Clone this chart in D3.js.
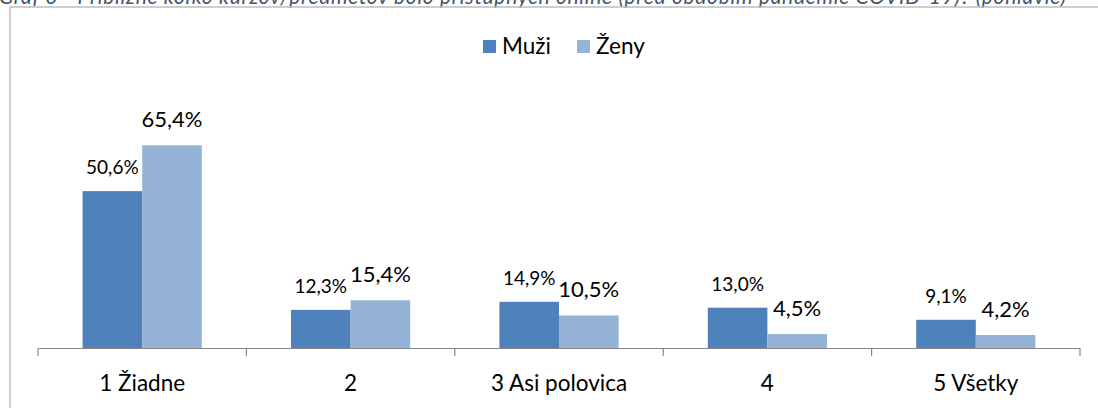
<!DOCTYPE html>
<html>
<head>
<meta charset="utf-8">
<script src="https://cdn.jsdelivr.net/npm/d3@7"></script>
<style>
  body { margin: 0; background: #fff; }
  svg { display: block; font-family: Lato, "Open Sans", sans-serif; }
</style>
</head>
<body>
<svg id="svg1" width="1098" height="408"></svg>
<script>
var categories = ['1 Žiadne', '2', '3 Asi polovica', '4', '5 Všetky'];
var seriesNames = ['Muži', 'Ženy'];
var muzi = [50.6, 12.3, 14.9, 13.0, 9.1];
var zeny = [65.4, 15.4, 10.5, 4.5, 4.2];
var colors = ['#4f81bd', '#95b3d7'];

var svg = d3.select('#svg1');

// caption, cut off at the top of the picture
svg.append('text')
    .attr('x', -1)
    .attr('y', 4)
    .attr('font-size', 21)
    .attr('font-style', 'italic')
    .attr('letter-spacing', 0.7)
    .attr('fill', '#44546a')
    .text('Graf 3 - Približne koľko kurzov/predmetov bolo prístupných online (pred obdobím pandémie COVID-19)? (pohlavie)');

// chart frame
svg.append('rect')
    .attr('x', 10)
    .attr('y', 7)
    .attr('width', 1200)
    .attr('height', 500)
    .attr('fill', 'none')
    .attr('stroke', '#bfbfbf')
    .attr('stroke-width', 1.5);

var scaleX = d3.scaleBand().domain(categories).range([38, 1080]);
var scaleY = d3.scaleLinear().domain([0, 70]).range([348, 131]);
var inner = d3.scaleBand().domain(seriesNames).range([0, scaleX.bandwidth() * 0.572]);

var rows = categories.map(function(c, i) {
    return { cat: c, values: [muzi[i], zeny[i]] };
});

var groups = svg.selectAll('.grp')
    .data(rows)
    .enter().append('g')
    .attr('class', 'grp')
    .attr('transform', function(d) {
        return 'translate(' + (scaleX(d.cat) + scaleX.bandwidth() * 0.214) + ',0)';
    });

groups.selectAll('rect')
    .data(function(d) { return d.values.map(function(v, j) { return { name: seriesNames[j], v: v, j: j }; }); })
    .enter().append('rect')
    .attr('x', function(d) { return inner(d.name); })
    .attr('y', function(d) { return scaleY(d.v); })
    .attr('width', inner.bandwidth())
    .attr('height', function(d) { return scaleY(0) - scaleY(d.v); })
    .attr('fill', function(d) { return colors[d.j]; });

// value labels (Ženy labels are set a bit larger, as in the original)
groups.selectAll('text')
    .data(function(d) { return d.values.map(function(v, j) { return { name: seriesNames[j], v: v, j: j }; }); })
    .enter().append('text')
    .attr('x', function(d) { return inner(d.name) + inner.bandwidth() / 2; })
    .attr('y', function(d) { return scaleY(d.v) - (d.j === 0 ? 17 : 18); })
    .attr('text-anchor', 'middle')
    .attr('font-size', function(d) { return d.j === 0 ? 19 : 22; })
    .attr('fill', '#000')
    .text(function(d) { return d.v.toFixed(1).replace('.', ',') + '%'; });

// x axis
var axis = svg.append('g')
    .attr('transform', 'translate(0,348)')
    .call(d3.axisBottom(scaleX).tickSize(0).tickFormat(''));
axis.select('.domain').attr('stroke', '#868686').attr('stroke-width', 1.2);

var edges = d3.range(categories.length + 1).map(function(i) {
    return i < categories.length ? scaleX(categories[i]) : scaleX.range()[1];
});
svg.selectAll('.tk')
    .data(edges)
    .enter().append('line')
    .attr('class', 'tk')
    .attr('x1', function(d) { return d; })
    .attr('x2', function(d) { return d; })
    .attr('y1', 348)
    .attr('y2', 356)
    .attr('stroke', '#868686')
    .attr('stroke-width', 1.2);

svg.selectAll('.cat')
    .data(categories)
    .enter().append('text')
    .attr('class', 'cat')
    .attr('x', function(d) { return scaleX(d) + scaleX.bandwidth() / 2; })
    .attr('y', 391)
    .attr('text-anchor', 'middle')
    .attr('font-size', 22.5)
    .attr('fill', '#000')
    .text(function(d) { return d; });

// legend
var legendX = [483, 577];
var legend = svg.selectAll('.leg')
    .data(seriesNames)
    .enter().append('g')
    .attr('class', 'leg')
    .attr('transform', function(d, i) { return 'translate(' + legendX[i] + ',40)'; });
legend.append('rect')
    .attr('width', 13)
    .attr('height', 13)
    .attr('fill', function(d, i) { return colors[i]; });
legend.append('text')
    .attr('x', 19)
    .attr('y', 14)
    .attr('font-size', 22.5)
    .attr('fill', '#000')
    .text(function(d) { return d; });
</script>
</body>
</html>
